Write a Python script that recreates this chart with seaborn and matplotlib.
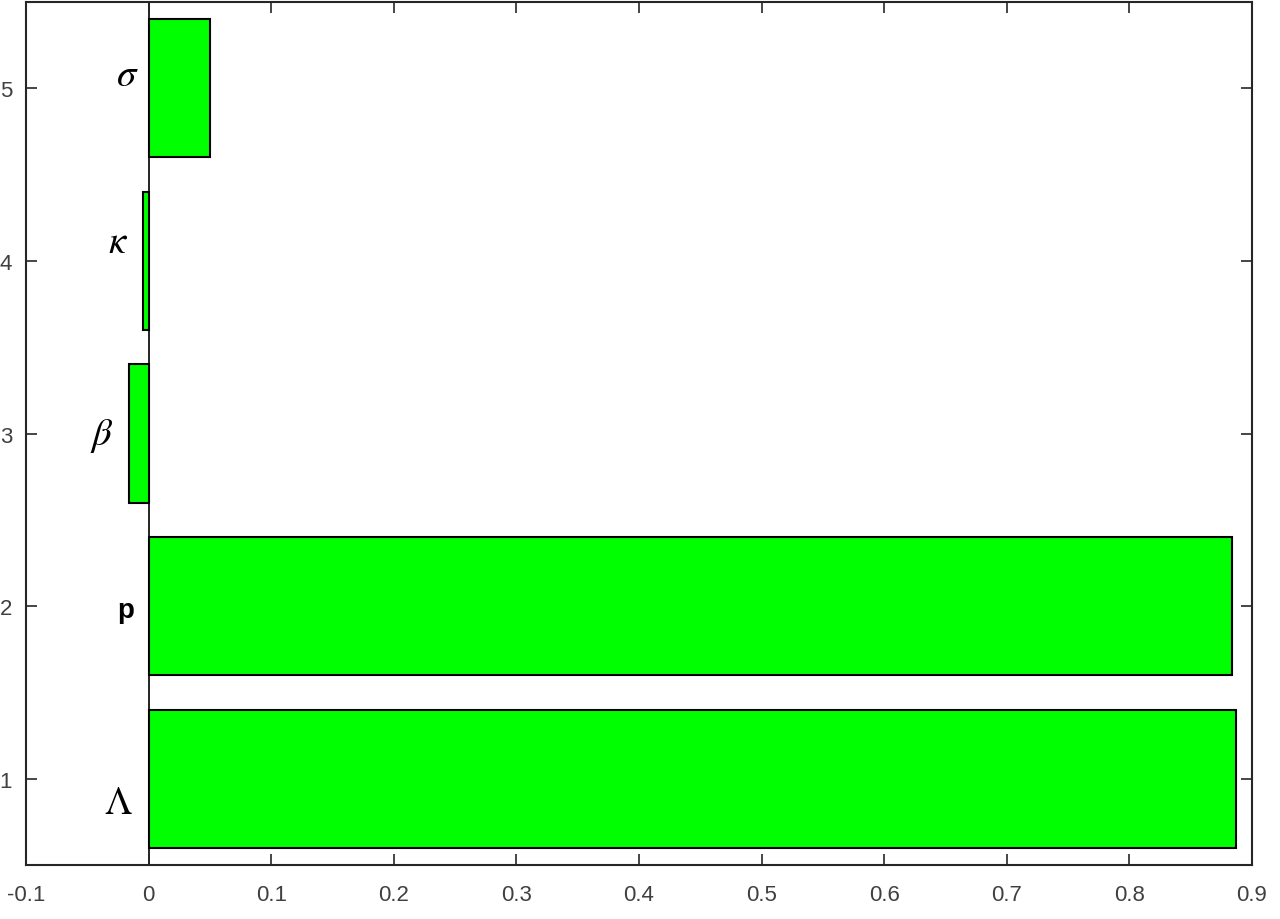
import matplotlib
matplotlib.use("Agg")
import matplotlib.pyplot as plt
import seaborn as sns
import pandas as pd

# Data
positions = [1, 2, 3, 4, 5]
values = [0.887, 0.884, -0.016, -0.0045, 0.050]
param_labels = [r'$\Lambda$', 'p', r'$\beta$', r'$\kappa$', r'$\sigma$']
label_x = [-0.025, -0.0185, -0.038, -0.025, -0.017]
label_y = [0.86, 1.98, 2.99, 4.11, 5.08]
xticks = [-0.1, 0, 0.1, 0.2, 0.3, 0.4, 0.5, 0.6, 0.7, 0.8, 0.9]
xtick_labels = ['-0.1', '0', '0.1', '0.2', '0.3', '0.4', '0.5', '0.6', '0.7', '0.8', '0.9']
yticks = [1, 2, 3, 4, 5]

sns.set_style("white")
plt.rcParams['mathtext.fontset'] = 'stix'
plt.rcParams['font.family'] = ['Liberation Sans', 'DejaVu Sans']

df = pd.DataFrame({'pos': positions, 'val': values})

fig = plt.figure(figsize=(12.8, 9.2), dpi=100)
ax = fig.add_axes([0.0203, 0.0587, 0.9578, 0.938])

sns.barplot(data=df, x='val', y='pos', orient='h', native_scale=True,
            width=0.8, color='#00ff00', saturation=1, edgecolor='black',
            linewidth=1.5, ax=ax, errorbar=None)
ax.axvline(0, color='black', lw=1.2, zorder=0.5)

ax.set_xlim(-0.1, 0.9)
ax.set_ylim(0.5, 5.5)
ax.set_xticks(xticks)
ax.set_xticklabels(xtick_labels)
ax.set_yticks(yticks)
ax.set_yticklabels([str(t) for t in yticks])
ax.set_xlabel('')
ax.set_ylabel('')

for lab, lx, ly in zip(param_labels, label_x, label_y):
    if lab == 'p':
        ax.text(lx, ly, lab, ha='center', va='center', fontsize=20,
                fontweight='bold', color='black')
    else:
        ax.text(lx, ly, lab, ha='center', va='center', fontsize=28, color='black')

ax.tick_params(direction='in', length=8, width=1.2, top=True, right=True,
               bottom=True, left=True, labelsize=16, colors='#262626', pad=14)
ax.tick_params(axis='x', labelcolor='#404040')
ax.tick_params(axis='y', labelcolor='#404040', pad=10)
for s in ax.spines.values():
    s.set_visible(True)
    s.set_color('#262626')
    s.set_linewidth(1.5)

fig.savefig('out.png', dpi=100)
